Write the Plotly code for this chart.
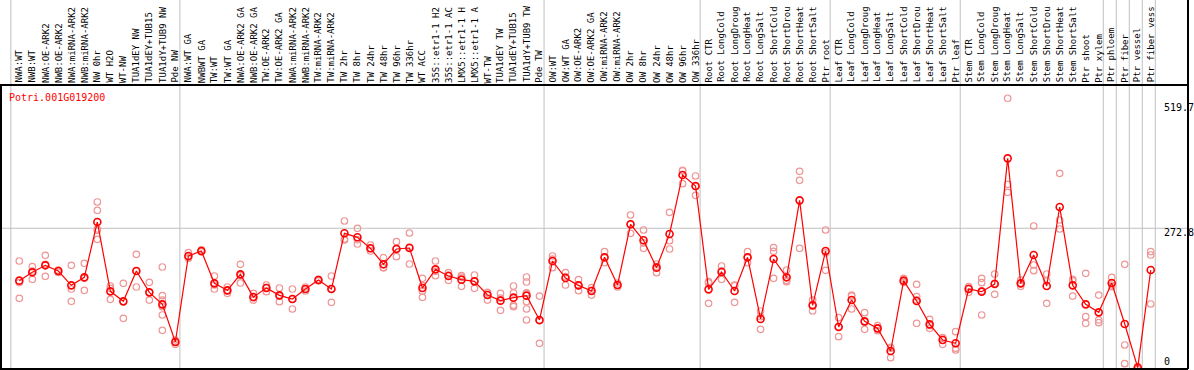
import plotly.graph_objects as go

title_text = "Potri.001G019200"

categories = [
    "NWA:WT", "NWB:WT", "NWA:OE-ARK2", "NWB:OE-ARK2", "NWA:miRNA-ARK2", "NWB:miRNA-ARK2",
    "NW 0hr", "WT H2O", "WT-NW", "TUA1dEY NW", "TUA1dEY+TUB15", "TUA1dY+TUB9 NW", "Pde NW",
    "NWA:WT GA", "NWBWT GA", "TW:WT", "TW:WT GA", "NWA:OE-ARK2 GA", "NWB:OE-ARK2 GA",
    "TW:OE-ARK2", "TW:OE-ARK2 GA", "NWA:miRNA-ARK2", "NWB:miRNA-ARK2", "TW:miRNA-ARK2",
    "TW:miRNA-ARK2", "TW 2hr", "TW 8hr", "TW 24hr", "TW 48hr", "TW 96hr", "TW 336hr",
    "WT ACC", "35S::etr1-1 H2", "35S::etr1-1 AC", "LMX5::etr1-1 H", "LMX5::etr1-1 A",
    "WT-TW", "TUA1dEY TW", "TUA1dEY+TUB15", "TUA1dY+TUB9 TW", "Pde TW",
    "OW:WT", "OW:WT GA", "OW:OE-ARK2", "OW:OE-ARK2 GA", "OW:miRNA-ARK2", "OW:miRNA-ARK2",
    "OW 2hr", "OW 8hr", "OW 24hr", "OW 48hr", "OW 96hr", "OW 336hr",
    "Root CTR", "Root LongCold", "Root LongDroug", "Root LongHeat", "Root LongSalt",
    "Root ShortCold", "Root ShortDrou", "Root ShortHeat", "Root ShortSalt", "Ptr root",
    "Leaf CTR", "Leaf LongCold", "Leaf LongDroug", "Leaf LongHeat", "Leaf LongSalt",
    "Leaf ShortCold", "Leaf ShortDrou", "Leaf ShortHeat", "Leaf ShortSalt", "Ptr leaf",
    "Stem CTR", "Stem LongCold", "Stem LongDroug", "Stem LongHeat", "Stem LongSalt",
    "Stem ShortCold", "Stem ShortDrou", "Stem ShortHeat", "Stem ShortSalt", "Ptr shoot",
    "Ptr xylem", "Ptr phloem", "Ptr fiber", "Ptr vessel", "Ptr fiber vess",
]

mean_values = [
    173.3, 189.1, 202.4, 191.6, 164.4, 179.6, 284.7, 153.0, 134.0, 191.6, 151.1, 128.3, 56.8,
    220.1, 229.6, 168.2, 154.9, 185.3, 142.2, 159.3, 145.4, 138.4, 157.4, 174.5, 157.4,
    263.2, 255.6, 234.7, 204.3, 233.4, 235.3, 159.3, 194.8, 182.1, 175.2, 172.0, 146.0,
    135.3, 141.0, 144.8, 98.6,
    210.6, 178.3, 164.4, 153.6, 217.6, 165.0, 280.3, 249.9, 198.0, 261.9, 374.0, 353.1,
    156.8, 189.7, 153.6, 217.6, 100.5, 214.4, 179.6, 325.8, 126.4, 229.6,
    85.3, 136.5, 96.0, 82.7, 39.7, 173.3, 134.6, 90.3, 60.6, 54.3,
    157.4, 152.4, 166.9, 405.6, 168.2, 222.0, 163.1, 313.2, 164.4, 128.3, 113.1,
    168.8, 91.0, 8.0, 193.5,
]

replicate_values = [
    [210.6, 139.7, 169.6], [199.9, 175.8, 191.6], [221.4, 181.5, 204.3], [193.0, 189.0, 192.8],
    [202.4, 157.4, 134.0], [206.2, 154.9, 177.7], [322.7, 306.8, 271.4, 251.8, 269.0],
    [163.1, 137.8, 158.7], [168.2, 101.7, 134.0], [223.3, 161.2, 191.6], [170.1, 136.5, 151.1],
    [199.2, 144.8, 136.5, 123.9, 108.1, 78.9], [60.6, 52.3, 57.0],
    [226.4, 216.0, 218.0], [232.0, 228.0, 229.0], [182.1, 157.4, 165.0], [161.2, 149.2, 154.0],
    [204.3, 168.8, 183.0], [149.2, 136.5, 141.0], [165.0, 152.4, 160.0], [159.3, 133.4, 144.0],
    [157.4, 119.5, 138.0], [161.2, 153.6, 157.0], [176.0, 173.0, 174.5], [182.1, 132.1, 158.0],
    [286.6, 250.5, 252.0], [272.7, 242.9, 251.0], [241.0, 229.6, 234.0], [216.9, 198.0, 198.0],
    [247.3, 218.9, 234.0], [263.8, 204.9, 237.0], [177.7, 153.6, 141.6, 164.0],
    [210.6, 182.8, 191.0], [188.5, 173.9, 184.0], [182.8, 162.5, 180.0], [184.0, 158.7, 173.0],
    [151.1, 136.5, 150.0], [149.2, 116.9, 140.0], [163.1, 127.0, 123.9, 150.0],
    [180.2, 170.7, 149.2, 133.4, 119.5, 98.6, 150.0], [144.1, 54.3, 97.0],
    [220.1, 198.0, 214.0], [188.5, 165.0, 181.0], [175.2, 154.3, 164.0], [160.0, 146.0, 155.0],
    [228.4, 207.5, 217.0], [168.8, 161.2, 165.0], [298.0, 263.2, 280.0], [269.5, 234.7, 245.0],
    [204.9, 188.5, 200.0], [303.1, 249.2, 233.4], [381.6, 357.5, 383.0], [372.1, 335.3, 352.0],
    [171.4, 130.2, 169.0], [201.1, 175.8, 192.0], [165.0, 132.1, 164.0], [228.4, 207.5, 217.0],
    [115.7, 80.8, 105.0], [236.0, 177.7, 229.0], [193.5, 171.4, 174.0], [380.9, 363.8, 234.7],
    [136.5, 115.7, 127.0], [269.5, 192.9, 226.0],
    [103.0, 66.9, 86.0], [146.0, 119.5, 144.0], [112.5, 80.8, 95.0], [87.8, 78.3, 82.0],
    [46.6, 27.0, 45.0], [177.7, 170.0, 172.0], [166.3, 142.9, 92.2, 137.0], [99.8, 82.7, 88.0],
    [65.0, 52.3, 64.0], [76.4, 41.6, 45.0],
    [161.9, 151.1, 159.0], [177.7, 169.5, 108.1, 154.0], [185.9, 147.3, 168.0],
    [519.7, 356.2, 341.0], [174.5, 162.5, 168.0], [277.1, 203.0, 192.3], [185.9, 130.2, 173.0],
    [377.1, 288.5, 271.4], [175.8, 144.1, 173.0], [187.2, 104.9, 92.2], [146.0, 98.6, 93.5],
    [179.6, 161.9, 165.0], [204.3, 51.1, 15.6], [5.0, 9.0, 10.0], [228.4, 222.0, 129.0],
]

# index of last category in each group (gray separators)
group_ends = [12, 40, 52, 62, 72, 83, 84, 85, 86, 87]

axis_labels = ["519.7", "272.8", "0"]
grid_value = 272.8

# ---------------- layout geometry ----------------
W, H = 1194, 370
plot_left, plot_right = 0, 1188
plot_top, plot_bottom = 85, 369
plot_h = plot_bottom - plot_top
x0_px, dx_px = 19.3, 13.005
label_char_px = 5.42
label_bottom_px = 82.5

def px_to_paper_y(py):
    return (plot_bottom - py) / plot_h

def px_to_paper_x(px):
    return (px - plot_left) / (plot_right - plot_left)

x_range = [(plot_left - x0_px) / dx_px, (plot_right - x0_px) / dx_px]
y_range = [5.5, 544.9]

idx = list(range(len(categories)))

rep_x, rep_y = [], []
for i, reps in enumerate(replicate_values):
    for v in reps:
        rep_x.append(i)
        rep_y.append(v)

fig = go.Figure()
fig.add_trace(go.Scatter(
    x=rep_x, y=rep_y, mode="markers",
    marker=dict(symbol="circle-open", size=6.5, color="rgb(238,150,150)", line=dict(width=1.2)),
    hoverinfo="skip", showlegend=False,
))
fig.add_trace(go.Scatter(
    x=idx, y=mean_values, mode="lines+markers",
    line=dict(color="#ff0000", width=1.2),
    marker=dict(symbol="circle-open", size=7, color="#ff0000", line=dict(width=1.6)),
    text=categories, showlegend=False,
))

top_paper = px_to_paper_y(0)
shapes = []
for b in [-1] + group_ends:
    xb = b + 0.35
    shapes.append(dict(type="line", xref="x", yref="paper", x0=xb, x1=xb,
                       y0=0, y1=top_paper, line=dict(color="#c0c0c0", width=1), layer="below"))
shapes.append(dict(type="line", xref="paper", yref="y", x0=0, x1=1, y0=grid_value, y1=grid_value,
                   line=dict(color="#c0c0c0", width=1), layer="below"))
blk = dict(color="black", width=2)
shapes.append(dict(type="line", xref="paper", yref="paper", x0=0, x1=1, y0=1, y1=1, line=blk))
shapes.append(dict(type="line", xref="paper", yref="paper", x0=0, x1=1, y0=0, y1=0, line=blk))
shapes.append(dict(type="line", xref="paper", yref="paper", x0=1, x1=1, y0=0, y1=top_paper, line=blk))
shapes.append(dict(type="line", xref="paper", yref="paper", x0=px_to_paper_x(1), x1=px_to_paper_x(1),
                   y0=0, y1=1, line=blk))

annotations = []
for i, c in enumerate(categories):
    center_px = label_bottom_px - len(c) * label_char_px / 2
    annotations.append(dict(
        x=i, y=px_to_paper_y(center_px), xref="x", yref="paper", text=c, textangle=-90,
        xanchor="center", yanchor="middle", showarrow=False, borderpad=0,
        font=dict(family="DejaVu Sans Mono", size=9, color="black"),
    ))
annotations.append(dict(
    x=px_to_paper_x(8), y=px_to_paper_y(97.5), xref="paper", yref="paper", text=title_text,
    xanchor="left", yanchor="middle", showarrow=False, borderpad=0,
    font=dict(family="DejaVu Sans Mono", size=10, color="#ff0000"),
))
for lbl, py in zip(axis_labels, [107.7, 232.7, 361.7]):
    annotations.append(dict(
        x=px_to_paper_x(1162.5), y=px_to_paper_y(py), xref="paper", yref="paper", text=lbl,
        xanchor="left", yanchor="middle", showarrow=False, borderpad=0,
        font=dict(family="DejaVu Sans Mono", size=10, color="black"),
    ))

fig.update_layout(
    width=W, height=H, autosize=False,
    margin=dict(l=plot_left, r=W - plot_right, t=plot_top, b=H - plot_bottom, pad=0),
    paper_bgcolor="white", plot_bgcolor="white",
    xaxis=dict(range=x_range, showgrid=False, zeroline=False, showticklabels=False,
               ticks="", showline=False, fixedrange=True),
    yaxis=dict(range=y_range, showgrid=False, zeroline=False, showticklabels=False,
               ticks="", showline=False, fixedrange=True),
    shapes=shapes, annotations=annotations, showlegend=False,
)

fig.write_html(
    "out.html",
    config={"displayModeBar": False},
    post_script="document.body.style.margin='0';document.body.style.overflow='hidden';",
)
